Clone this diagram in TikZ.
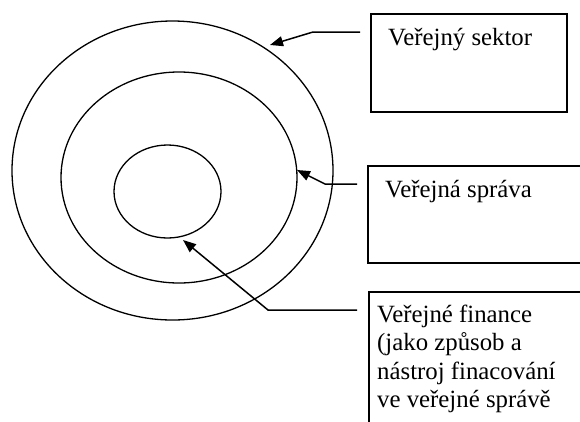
\documentclass[tikz,border=0pt]{standalone}
\usepackage{fontspec}
\setmainfont{Liberation Serif}
\usetikzlibrary{shapes.geometric,arrows.meta}
\begin{document}
\begin{tikzpicture}[x=1pt,y=-1pt,
  ring/.style={draw,ellipse,line width=1.3pt,inner sep=0pt,outer sep=0pt},
  box/.style={draw,line width=1.5pt},
  lbl/.style={font=\fontsize{24.8}{28.5}\selectfont,align=left,anchor=base west,inner sep=0pt},
  arr/.style={line width=1.5pt,-{Triangle[length=13pt,width=10pt]}}]
\useasboundingbox (0,0) rectangle (580,421);
\clip (0,0) rectangle (580,421);
% rings
\node[ring,minimum width=321pt,minimum height=299pt] (outer) at (172.5,170.5) {};
\node[ring,minimum width=236pt,minimum height=211pt] (middle) at (179,177.5) {};
\node[ring,minimum width=107pt,minimum height=93pt] (inner) at (167.5,191.5) {};
% boxes
\draw[box] (371,14) rectangle (567,112);
\draw[box] (368,166) rectangle (600,263);
\draw[box] (369,440) -- (369,292) -- (600,292);
% labels
\node[lbl] (t1) at (388,45) {Veřejný sektor};
\node[lbl] (t2) at (385,197) {Veřejná správa};
\node[lbl] (t3) at (377,407.5) {Veřejné finance\\(jako způsob a\\nástroj finacování\\ve veřejné správě};
% arrows
\coordinate (a1) at (360,32);
\coordinate (k1) at (313,32);
\coordinate (e1) at (270,45);
\coordinate (a2) at (357,184);
\coordinate (k2) at (325,184);
\coordinate (e2) at (297,170);
\coordinate (a3) at (357,310);
\coordinate (k3) at (268,310);
\coordinate (e3) at (183,240);
\draw[arr] (a1) -- (k1) -- (e1);
\draw[arr] (a2) -- (k2) -- (e2);
\draw[arr] (a3) -- (k3) -- (e3);
\end{tikzpicture}
\end{document}
